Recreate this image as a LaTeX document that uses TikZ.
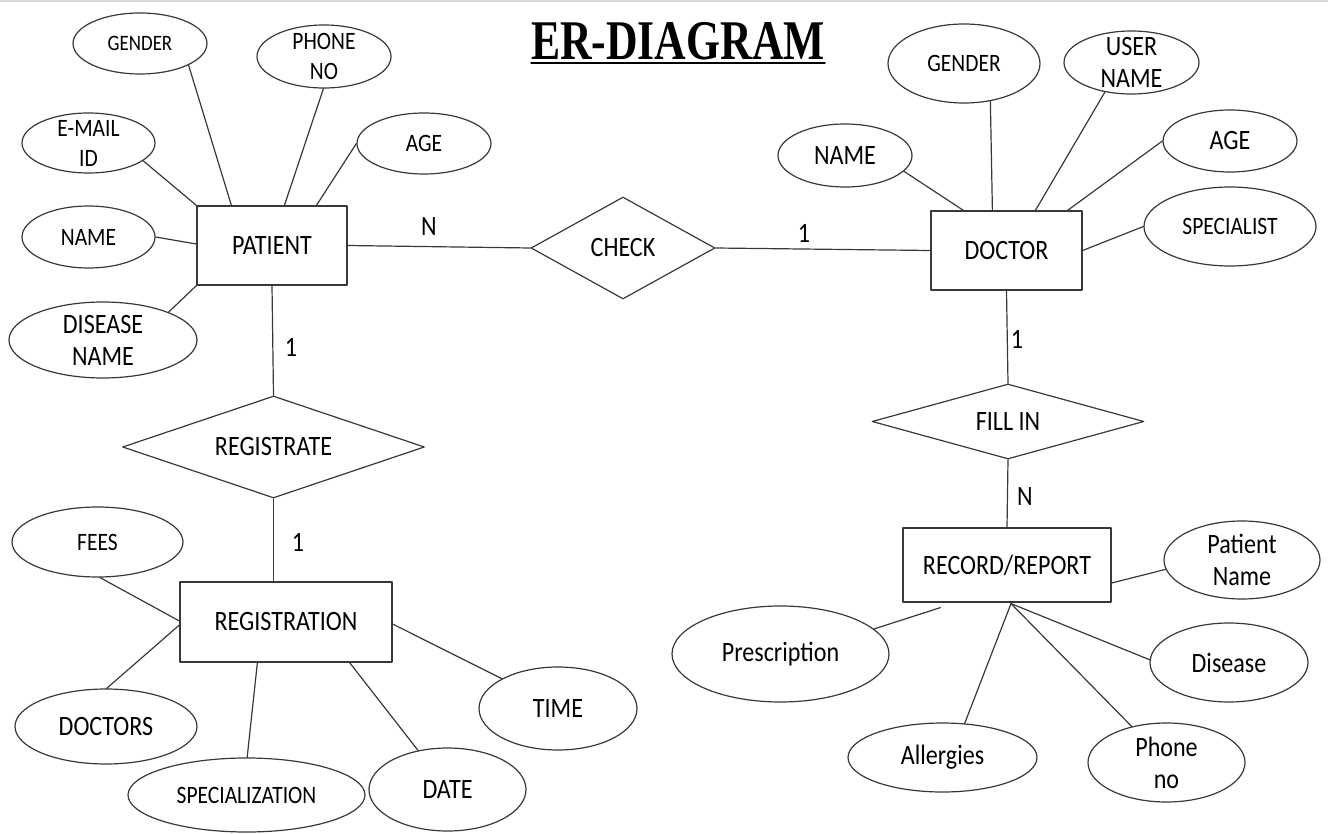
\documentclass[tikz,border=0pt]{standalone}
\usepackage{fontspec}
\setmainfont{Carlito}[FakeStretch=0.86]
\newfontfamily\titlefont{Liberation Serif}[FakeStretch=0.78]
\usetikzlibrary{shapes.geometric}
\definecolor{lnclr}{rgb}{0.22,0.22,0.22}
\definecolor{topline}{rgb}{0.85,0.85,0.85}
\newcommand{\erbig}{\fontsize{28}{32}\selectfont}
\newcommand{\ermid}{\fontsize{25}{30}\selectfont}
\newcommand{\ersmall}{\fontsize{22}{29}\selectfont}

\begin{document}
\begin{tikzpicture}[line cap=round,line join=round,x=1.0pt,y=-1.0pt,
  entity/.style={draw=lnclr,line width=1.2pt,rectangle,inner sep=0pt,font=\erbig},
  attr/.style={draw=lnclr,line width=1.2pt,ellipse,inner sep=-12pt,align=center,font=\erbig},
  rel/.style={draw=lnclr,line width=1.2pt,diamond,aspect=2,inner sep=0pt,font=\erbig},
  card/.style={inner sep=0pt,font=\erbig},
  conn/.style={draw=lnclr,line width=1.2pt}]
\useasboundingbox (0,0) rectangle (1328,834);
\draw [topline,line width=2pt] (0,1.5) -- (1328,1.5);
\node [inner sep=0pt,anchor=base,font=\titlefont\bfseries\fontsize{56}{60}\selectfont] (title) at (678,60) {ER-DIAGRAM};
\draw [line width=1.5pt] ([yshift=-3pt]title.base west) -- ([yshift=-3pt]title.base east);

\node [entity,minimum width=150pt,minimum height=79pt] (patient) at (272,245.5) {PATIENT};
\node [attr,minimum width=134pt,minimum height=61pt,font=\ersmall] (pgender) at (140,43.5) {GENDER};
\node [attr,minimum width=134pt,minimum height=63pt,font=\ermid] (pphone) at (324,56.5) {PHONE\\NO};
\node [attr,minimum width=133pt,minimum height=60pt,font=\ermid] (pemail) at (88.5,143) {E-MAIL\\ID};
\node [attr,minimum width=134pt,minimum height=61pt,font=\ermid] (page) at (424,143.5) {AGE};
\node [attr,minimum width=133pt,minimum height=62pt,font=\ermid] (pname) at (88.5,237) {NAME};
\node [attr,minimum width=188pt,minimum height=76pt] (pdisease) at (103,340) {DISEASE\\NAME};

\node [rel,minimum width=184pt,minimum height=102pt] (check) at (623,248) {CHECK};

\node [entity,minimum width=151pt,minimum height=79pt] (doctor) at (1006.5,250.5) {DOCTOR};
\node [attr,minimum width=134pt,minimum height=63pt] (dname) at (845,155.5) {NAME};
\node [attr,minimum width=152pt,minimum height=79pt,font=\ermid] (dgender) at (964,63.5) {GENDER};
\node [attr,minimum width=135pt,minimum height=63pt] (duser) at (1131.5,62.5) {USER\\NAME};
\node [attr,minimum width=134pt,minimum height=62pt] (dage) at (1230,141) {AGE};
\node [attr,minimum width=172pt,minimum height=79pt,font=\ermid] (dspec) at (1230,226.5) {SPECIALIST};

\node [rel,minimum width=302pt,minimum height=102pt] (registrate) at (273.5,447) {REGISTRATE};
\node [entity,minimum width=212pt,minimum height=80pt] (registration) at (286,622) {REGISTRATION};
\node [attr,minimum width=171pt,minimum height=70pt,font=\ermid] (fees) at (97.5,542) {FEES};
\node [attr,minimum width=182pt,minimum height=75pt] (doctors) at (106,726.5) {DOCTORS};
\node [attr,minimum width=237pt,minimum height=74pt,font=\ermid] (spec) at (246.5,795) {SPECIALIZATION};
\node [attr,minimum width=157pt,minimum height=83pt] (date) at (447.5,789.5) {DATE};
\node [attr,minimum width=158pt,minimum height=83pt] (time) at (558,708.5) {TIME};

\node [rel,minimum width=272pt,minimum height=75pt] (fillin) at (1008,421.5) {FILL IN};
\node [entity,minimum width=208pt,minimum height=74pt] (record) at (1007,565) {RECORD/REPORT};
\node [attr,minimum width=156pt,minimum height=78pt] (ptname) at (1242,560) {Patient\\Name};
\node [attr,minimum width=217pt,minimum height=96pt] (presc) at (780.5,654) {Prescription};
\node [attr,minimum width=158pt,minimum height=79pt] (disease) at (1229,662.5) {Disease};
\node [attr,minimum width=189pt,minimum height=69pt] (allergy) at (942.5,757.5) {Allergies};
\node [attr,minimum width=157pt,minimum height=79pt] (phoneno) at (1166.5,762.5) {Phone\\no};

\node [card] (npat) at (429,227) {N};
\node [card] (ndoc) at (804,233) {1};
\node [card] (nreg1) at (291,347) {1};
\node [card] (nreg2) at (298,542) {1};
\node [card] (nfill1) at (1017,339) {1};
\node [card] (nfill2) at (1025,497) {N};

\draw [conn] (pgender.-24) -- ([xshift=35pt]patient.north west);
\draw [conn] (pphone.-91) -- ([xshift=88pt]patient.north west);
\draw [conn] (page.180) -- ([xshift=120pt]patient.north west);
\draw [conn] (pemail.-18) -- (patient.north west);
\draw [conn] (pname.0) -- ([yshift=1.5pt]patient.west);
\draw [conn] (pdisease.23) -- (patient.south west);
\draw [conn] (patient.east) -- (check.west);
\draw [conn] (patient.south) -- (registrate.north);

\draw [conn] (check.east) -- (doctor.west);
\draw [conn] (dname.-15) -- ([xshift=33pt]doctor.north west);
\draw [conn] (dgender.-55) -- ([xshift=62pt]doctor.north west);
\draw [conn] (duser.-132) -- ([xshift=105pt]doctor.north west);
\draw [conn] (dage.180) -- ([xshift=-15pt]doctor.north east);
\draw [conn] (dspec.180) -- (doctor.east);
\draw [conn] (doctor.south) -- (fillin.north);

\draw [conn] (registrate.south) -- (registrate.south |- registration.north);
\draw [conn] (fees.-86) -- ([yshift=1pt]registration.west);
\draw [conn] (doctors.89) -- ([yshift=-3pt]registration.west);
\draw [conn] (spec.89) -- ([xshift=78pt]registration.south west);
\draw [conn] (date.127) -- ([xshift=-43pt]registration.south east);
\draw [conn] (time.152) -- ([yshift=-2pt]registration.east);

\draw [conn] (fillin.south) -- (record.north);
\coordinate (rhub) at ([xshift=4pt,yshift=-1pt]record.south);
\coordinate (prescend) at ([xshift=38pt,yshift=-5pt]record.south west);
\draw [conn] (ptname.-173) -- ([yshift=-18pt]record.east);
\draw [conn] (presc.15) -- (prescend);
\draw [conn] (allergy.57) -- (rhub);
\draw [conn] (phoneno.134) -- (rhub);
\draw [conn] (disease.178) -- (rhub);
\end{tikzpicture}
\end{document}
